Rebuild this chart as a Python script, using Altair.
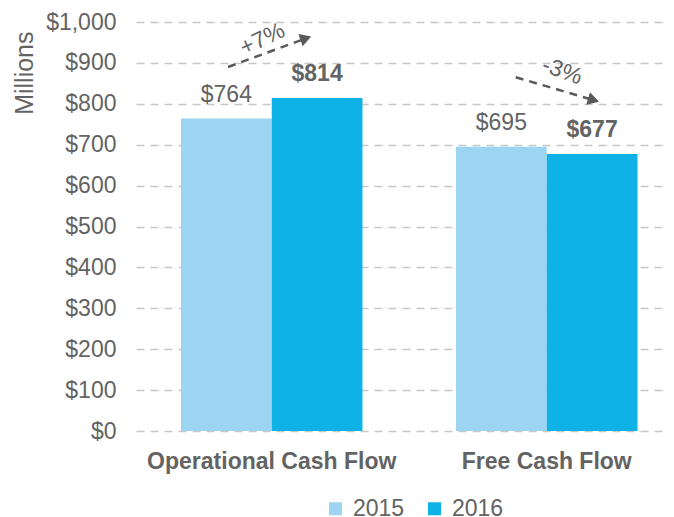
import altair as alt
import pandas as pd

categories = ["Operational Cash Flow", "Free Cash Flow"]
years = ["2015", "2016"]
values_2015 = [764, 695]
values_2016 = [814, 677]
colors = ["#9DD4F1", "#0EB2E6"]

# growth annotations (position within each category group: 0 = left edge, 1 = right edge)
pct_labels = ["+7%", "-3%"]
arrow_start_pos = [0.26, 0.33]
arrow_end_pos = [0.69, 0.76]
arrow_start = [890, 865]
arrow_end = [960, 809]
arrow_head_angle = [341, 17]
pct_label_pos = [0.45, 0.586]
pct_label_y = [958, 880]
pct_label_angle = [335, 20]

rows = []
for i, c in enumerate(categories):
    rows.append({"cat": c, "year": "2015", "value": values_2015[i],
                 "label": f"${values_2015[i]}"})
    rows.append({"cat": c, "year": "2016", "value": values_2016[i],
                 "label": f"${values_2016[i]}"})
bars_df = pd.DataFrame(rows)

arrow_rows = []
for i, c in enumerate(categories):
    arrow_rows.append({"cat": c, "pos": arrow_start_pos[i], "y": arrow_start[i], "id": i})
    arrow_rows.append({"cat": c, "pos": arrow_end_pos[i], "y": arrow_end[i], "id": i})
arrow_df = pd.DataFrame(arrow_rows)

head_df = pd.DataFrame({"cat": categories, "pos": arrow_end_pos,
                        "y": arrow_end, "angle": arrow_head_angle})
pct_df = pd.DataFrame({"cat": categories, "pos": pct_label_pos, "y": pct_label_y,
                       "angle": pct_label_angle, "label": pct_labels})

FONT = "Liberation Sans"
GREY = "#636363"

x_scale = alt.Scale(paddingInner=0.34, paddingOuter=0.1336, align=0.612)
x_enc = alt.X("cat:N", sort=categories, title=None, scale=x_scale,
              axis=alt.Axis(labelFontWeight="bold", labelFontSize=23, labelColor=GREY,
                            labelFont=FONT, ticks=False, domain=False, labelAngle=0,
                            labelPadding=19, grid=False, labelLimit=0))
y_scale = alt.Scale(domain=[0, 1000], nice=False)
xo = alt.XOffset("year:N", sort=years)
xo_q = alt.XOffset("pos:Q", scale=alt.Scale(domain=[0, 1], range=[0, 181]))
x_plain = alt.X("cat:N", sort=categories)

bars = alt.Chart(bars_df).mark_bar().encode(
    x=x_enc,
    xOffset=xo,
    y=alt.Y("value:Q", scale=y_scale, title="Millions",
            axis=alt.Axis(values=list(range(0, 1001, 100)), format="$,.0f",
                          labelFontSize=23, labelColor=GREY, labelFont=FONT,
                          ticks=False, domain=False, labelPadding=20,
                          gridDash=[8, 6], gridColor="#C8C8C8", gridWidth=1.5,
                          titleFontSize=25, titleFontWeight="normal", titleColor=GREY,
                          titleFont=FONT, titleAngle=270, titleAlign="right",
                          titleBaseline="alphabetic", titleX=-104, titleY=9)),
    color=alt.Color("year:N", sort=years, scale=alt.Scale(domain=years, range=colors),
                    legend=alt.Legend(title=None, orient="none", direction="horizontal",
                                      legendX=188, legendY=475, symbolType="square",
                                      symbolSize=169, symbolStrokeWidth=0,
                                      labelFontSize=23, labelColor=GREY, labelFont=FONT,
                                      columnPadding=18, labelOffset=6)),
)

lab_2015 = alt.Chart(bars_df[bars_df.year == "2015"]).mark_text(
    fontSize=23, color=GREY, font=FONT, dy=-17, baseline="alphabetic"
).encode(x=x_plain, xOffset=xo, y=alt.Y("value:Q", scale=y_scale), text="label:N")

lab_2016 = alt.Chart(bars_df[bars_df.year == "2016"]).mark_text(
    fontSize=23, color=GREY, font=FONT, fontWeight="bold", dy=-17, baseline="alphabetic"
).encode(x=x_plain, xOffset=xo, y=alt.Y("value:Q", scale=y_scale), text="label:N")

arrows = alt.Chart(arrow_df).mark_line(
    color="#595959", strokeDash=[8, 6], strokeWidth=2.5
).encode(x=x_plain, xOffset=xo_q, y=alt.Y("y:Q", scale=y_scale), detail="id:N")

heads = alt.Chart(head_df).mark_point(
    shape="triangle-right", filled=True, color="#595959", size=170, opacity=1
).encode(x=x_plain, xOffset=xo_q, y=alt.Y("y:Q", scale=y_scale),
         angle=alt.Angle("angle:Q", scale=None))

pct_layers = []
for i in range(len(categories)):
    pct_layers.append(alt.Chart(pct_df.iloc[[i]]).mark_text(
        fontSize=23, color=GREY, font=FONT, baseline="middle",
        angle=pct_label_angle[i]
    ).encode(x=x_plain, xOffset=xo_q, y=alt.Y("y:Q", scale=y_scale), text="label:N"))

base = alt.layer(bars, lab_2015, lab_2016).resolve_scale(xOffset="shared")
annot = alt.layer(arrows, heads, *pct_layers)

chart = alt.layer(base, annot).resolve_scale(xOffset="independent").properties(
    width=530, height=409,
    autosize=alt.AutoSizeParams(type="none"),
    padding={"left": 128, "top": 14, "right": 0, "bottom": 86},
).configure_view(stroke=None)

chart.save("out.html", embed_options={"renderer": "svg", "actions": False})
